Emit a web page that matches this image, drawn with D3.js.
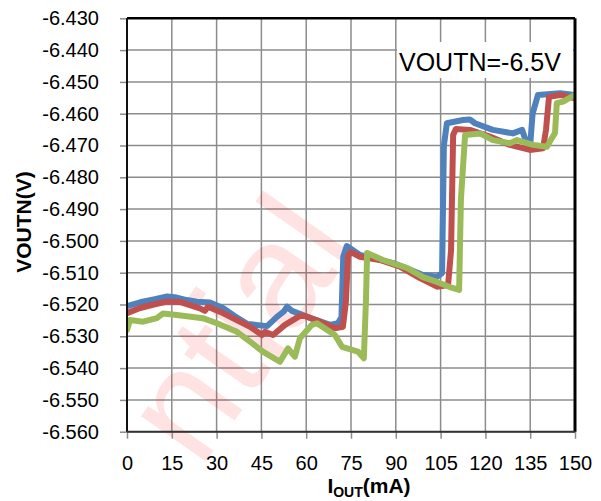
<!DOCTYPE html>
<html>
<head>
<meta charset="utf-8">
<script src="https://cdn.jsdelivr.net/npm/d3@7"></script>
<style>
  html, body { margin: 0; padding: 0; background: #fff; }
  svg { display: block; font-family: "Liberation Sans", Arial, sans-serif; }
</style>
</head>
<body>
<svg id="chart" width="601" height="501"></svg>
<script>
// ---- data ----
const xTicks = [0, 15, 30, 45, 60, 75, 90, 105, 120, 135, 150];
const yTicks = [-6.43, -6.44, -6.45, -6.46, -6.47, -6.48, -6.49, -6.50, -6.51, -6.52, -6.53, -6.54, -6.55, -6.56];
const yTickLabels = ["-6.430","-6.440","-6.450","-6.460","-6.470","-6.480","-6.490","-6.500","-6.510","-6.520","-6.530","-6.540","-6.550","-6.560"];
const xTitleMain = "I";
const xTitleSub = "OUT";
const xTitleTail = "(mA)";
const yTitle = "VOUTN(V)";
const annotation = "VOUTN=-6.5V";
const watermark = "ntial";

// blue series: [mA, V]
const blueSeries = [
  [0,-6.5205],[4.4,-6.5193],[9,-6.5184],[13.4,-6.5175],[16,-6.5177],[20,-6.5186],[23.4,-6.5191],[27.8,-6.5194],
  [32.1,-6.5211],[36,-6.5236],[40.2,-6.5261],[46.9,-6.5268],[50.2,-6.5239],[52.5,-6.5222],[53.6,-6.5207],
  [55.2,-6.5220],[61.3,-6.5242],[68.0,-6.5264],[70.6,-6.5259],[71.8,-6.5240],[72.4,-6.5050],[73.6,-6.5016],
  [78.0,-6.5044],[84,-6.5058],[89.1,-6.5070],[94,-6.5088],[99.1,-6.5107],[103.8,-6.5113],[105.5,-6.5101],
  [106.1,-6.4700],[107.1,-6.4630],[112.5,-6.4620],[114.8,-6.4618],[116.5,-6.4630],[122.5,-6.4651],
  [129.2,-6.4662],[132.3,-6.4651],[133.7,-6.4690],[135.0,-6.4698],[135.8,-6.4600],[137.6,-6.4541],
  [145.0,-6.4536],[150.0,-6.4541]
];
// red series
const redSeries = [
  [0,-6.5227],[4.4,-6.5211],[9,-6.5200],[13.4,-6.5191],[17.7,-6.5192],[24.4,-6.5212],[26.1,-6.5220],[27.1,-6.5207],
  [32.1,-6.5227],[41.2,-6.5270],[45.2,-6.5296],[46.2,-6.5286],[48.9,-6.5296],[52.9,-6.5264],[57.9,-6.5236],
  [59.6,-6.5236],[64.6,-6.5254],[69.6,-6.5275],[72.3,-6.5270],[73.3,-6.5190],[74.0,-6.5047],[75.0,-6.5035],
  [78.0,-6.5050],[84.7,-6.5060],[91.4,-6.5081],[98.1,-6.5117],[103.8,-6.5144],[107.5,-6.5139],[108.5,-6.5030],
  [109.2,-6.4667],[110.1,-6.4648],[114.8,-6.4651],[121.5,-6.4672],[128.2,-6.4698],[134.9,-6.4714],
  [139.3,-6.4709],[140.3,-6.4650],[141.3,-6.4547],[145.0,-6.4541],[150,-6.4552]
];
// green series
const greenSeries = [
  [0,-6.5280],[1.0,-6.5249],[5.4,-6.5254],[10.0,-6.5243],[12.1,-6.5228],[16.7,-6.5233],[25.4,-6.5243],
  [30.1,-6.5259],[36.8,-6.5286],[41.2,-6.5317],[45.5,-6.5348],[51.2,-6.5380],[53.9,-6.5338],[56.2,-6.5364],
  [57.9,-6.5306],[61.9,-6.5264],[63.6,-6.5259],[69.6,-6.5296],[72.0,-6.5333],[77.3,-6.5348],[79.3,-6.5369],
  [80.0,-6.5190],[80.4,-6.5038],[85.7,-6.5060],[93.7,-6.5085],[99.1,-6.5114],[103.8,-6.5129],[108.1,-6.5145],
  [111.2,-6.5154],[111.8,-6.4870],[113.2,-6.4667],[118.2,-6.4662],[122.5,-6.4683],[128.2,-6.4693],
  [130.6,-6.4683],[136.0,-6.4698],[140.6,-6.4704],[142.3,-6.4676],[143.3,-6.4661],[143.9,-6.4567],
  [146.0,-6.4562],[150,-6.4541]
];
const seriesList = [
  {name: "blue", values: blueSeries, color: "#4f81bd"},
  {name: "red", values: redSeries, color: "#c0504d"},
  {name: "green", values: greenSeries, color: "#9bbb59"}
];

// ---- layout ----
const L = 127, R = 575, T = 18.3, B = 431.7;
const svg = d3.select("#chart");
const x = d3.scaleLinear().domain([0, 150]).range([L, R]);
const y = d3.scaleLinear().domain([-6.56, -6.43]).range([B, T]);

// gridlines
const grid = svg.append("g").attr("class", "grid");
grid.selectAll("line.v").data(xTicks).join("line")
  .attr("x1", d => x(d)).attr("x2", d => x(d)).attr("y1", T).attr("y2", B)
  .attr("stroke", "#8c8c8c").attr("stroke-width", 1.5);
grid.selectAll("line.h").data(yTicks).join("line")
  .attr("y1", d => y(d)).attr("y2", d => y(d)).attr("x1", L).attr("x2", R)
  .attr("stroke", "#8c8c8c").attr("stroke-width", 1.5);

// watermark
svg.append("text")
  .attr("transform", "translate(200,470) rotate(-55)")
  .attr("font-size", 150)
  .attr("font-family", "Liberation Sans, Arial, sans-serif")
  .attr("fill", "#ff0000").attr("fill-opacity", 0.11)
  .text(watermark);

// annotation box
svg.append("rect").attr("x", 397).attr("y", 42).attr("width", 176).attr("height", 36).attr("fill", "#fff");
svg.append("text").attr("x", 399).attr("y", 71).attr("font-size", 25).attr("fill", "#000").text(annotation);

// axes
const yAxis = d3.axisLeft(y).tickValues(yTicks).tickFormat((d, i) => yTickLabels[i]).tickSize(7).tickSizeOuter(0).tickPadding(21);
const gy = svg.append("g").attr("transform", `translate(${L},0)`).call(yAxis);
gy.select(".domain").remove();
gy.selectAll(".tick line").attr("stroke", "#8c8c8c").attr("stroke-width", 1.5);
gy.selectAll(".tick text").attr("font-size", 20).attr("fill", "#000").attr("font-family", null);

const xAxis = d3.axisBottom(x).tickValues(xTicks).tickFormat(d3.format("d")).tickSize(7).tickSizeOuter(0);
const gx = svg.append("g").attr("transform", `translate(0,${B})`).call(xAxis);
gx.select(".domain").remove();
gx.selectAll(".tick line").attr("stroke", "#8c8c8c").attr("stroke-width", 1.5);
gx.selectAll(".tick text").attr("font-size", 20).attr("fill", "#000").attr("font-family", null)
  .attr("dy", null).attr("y", 470 - B);

// series lines
const line = d3.line().x(d => x(d[0])).y(d => y(d[1]));
svg.append("defs").append("clipPath").attr("id", "plotclip")
  .append("rect").attr("x", L).attr("y", T).attr("width", R - L).attr("height", B - T);
svg.append("g").attr("clip-path", "url(#plotclip)")
  .selectAll("path").data(seriesList).join("path")
  .attr("d", d => line(d.values))
  .attr("fill", "none").attr("stroke", d => d.color).attr("stroke-width", 6)
  .attr("stroke-linejoin", "round").attr("stroke-linecap", "round");

// frame
svg.append("line").attr("x1", L).attr("x2", R).attr("y1", T).attr("y2", T).attr("stroke", "#000").attr("stroke-width", 2.5);
svg.append("line").attr("x1", R).attr("x2", R).attr("y1", T).attr("y2", B).attr("stroke", "#000").attr("stroke-width", 3);
svg.append("line").attr("x1", L).attr("x2", L).attr("y1", T).attr("y2", B).attr("stroke", "#111").attr("stroke-width", 2);
svg.append("line").attr("x1", L).attr("x2", R).attr("y1", B).attr("y2", B).attr("stroke", "#333").attr("stroke-width", 2);

// axis titles
const xt = svg.append("text").attr("x", 369).attr("y", 493).attr("text-anchor", "middle")
  .attr("font-size", 21).attr("font-weight", "bold").attr("fill", "#000");
xt.append("tspan").text(xTitleMain);
xt.append("tspan").attr("font-size", 14).attr("dy", 4).text(xTitleSub);
xt.append("tspan").attr("dy", -4).text(xTitleTail);

svg.append("text").attr("transform", "translate(31,222) rotate(-90)").attr("text-anchor", "middle")
  .attr("font-size", 21).attr("font-weight", "bold").attr("fill", "#000").text(yTitle);
</script>
</body>
</html>
